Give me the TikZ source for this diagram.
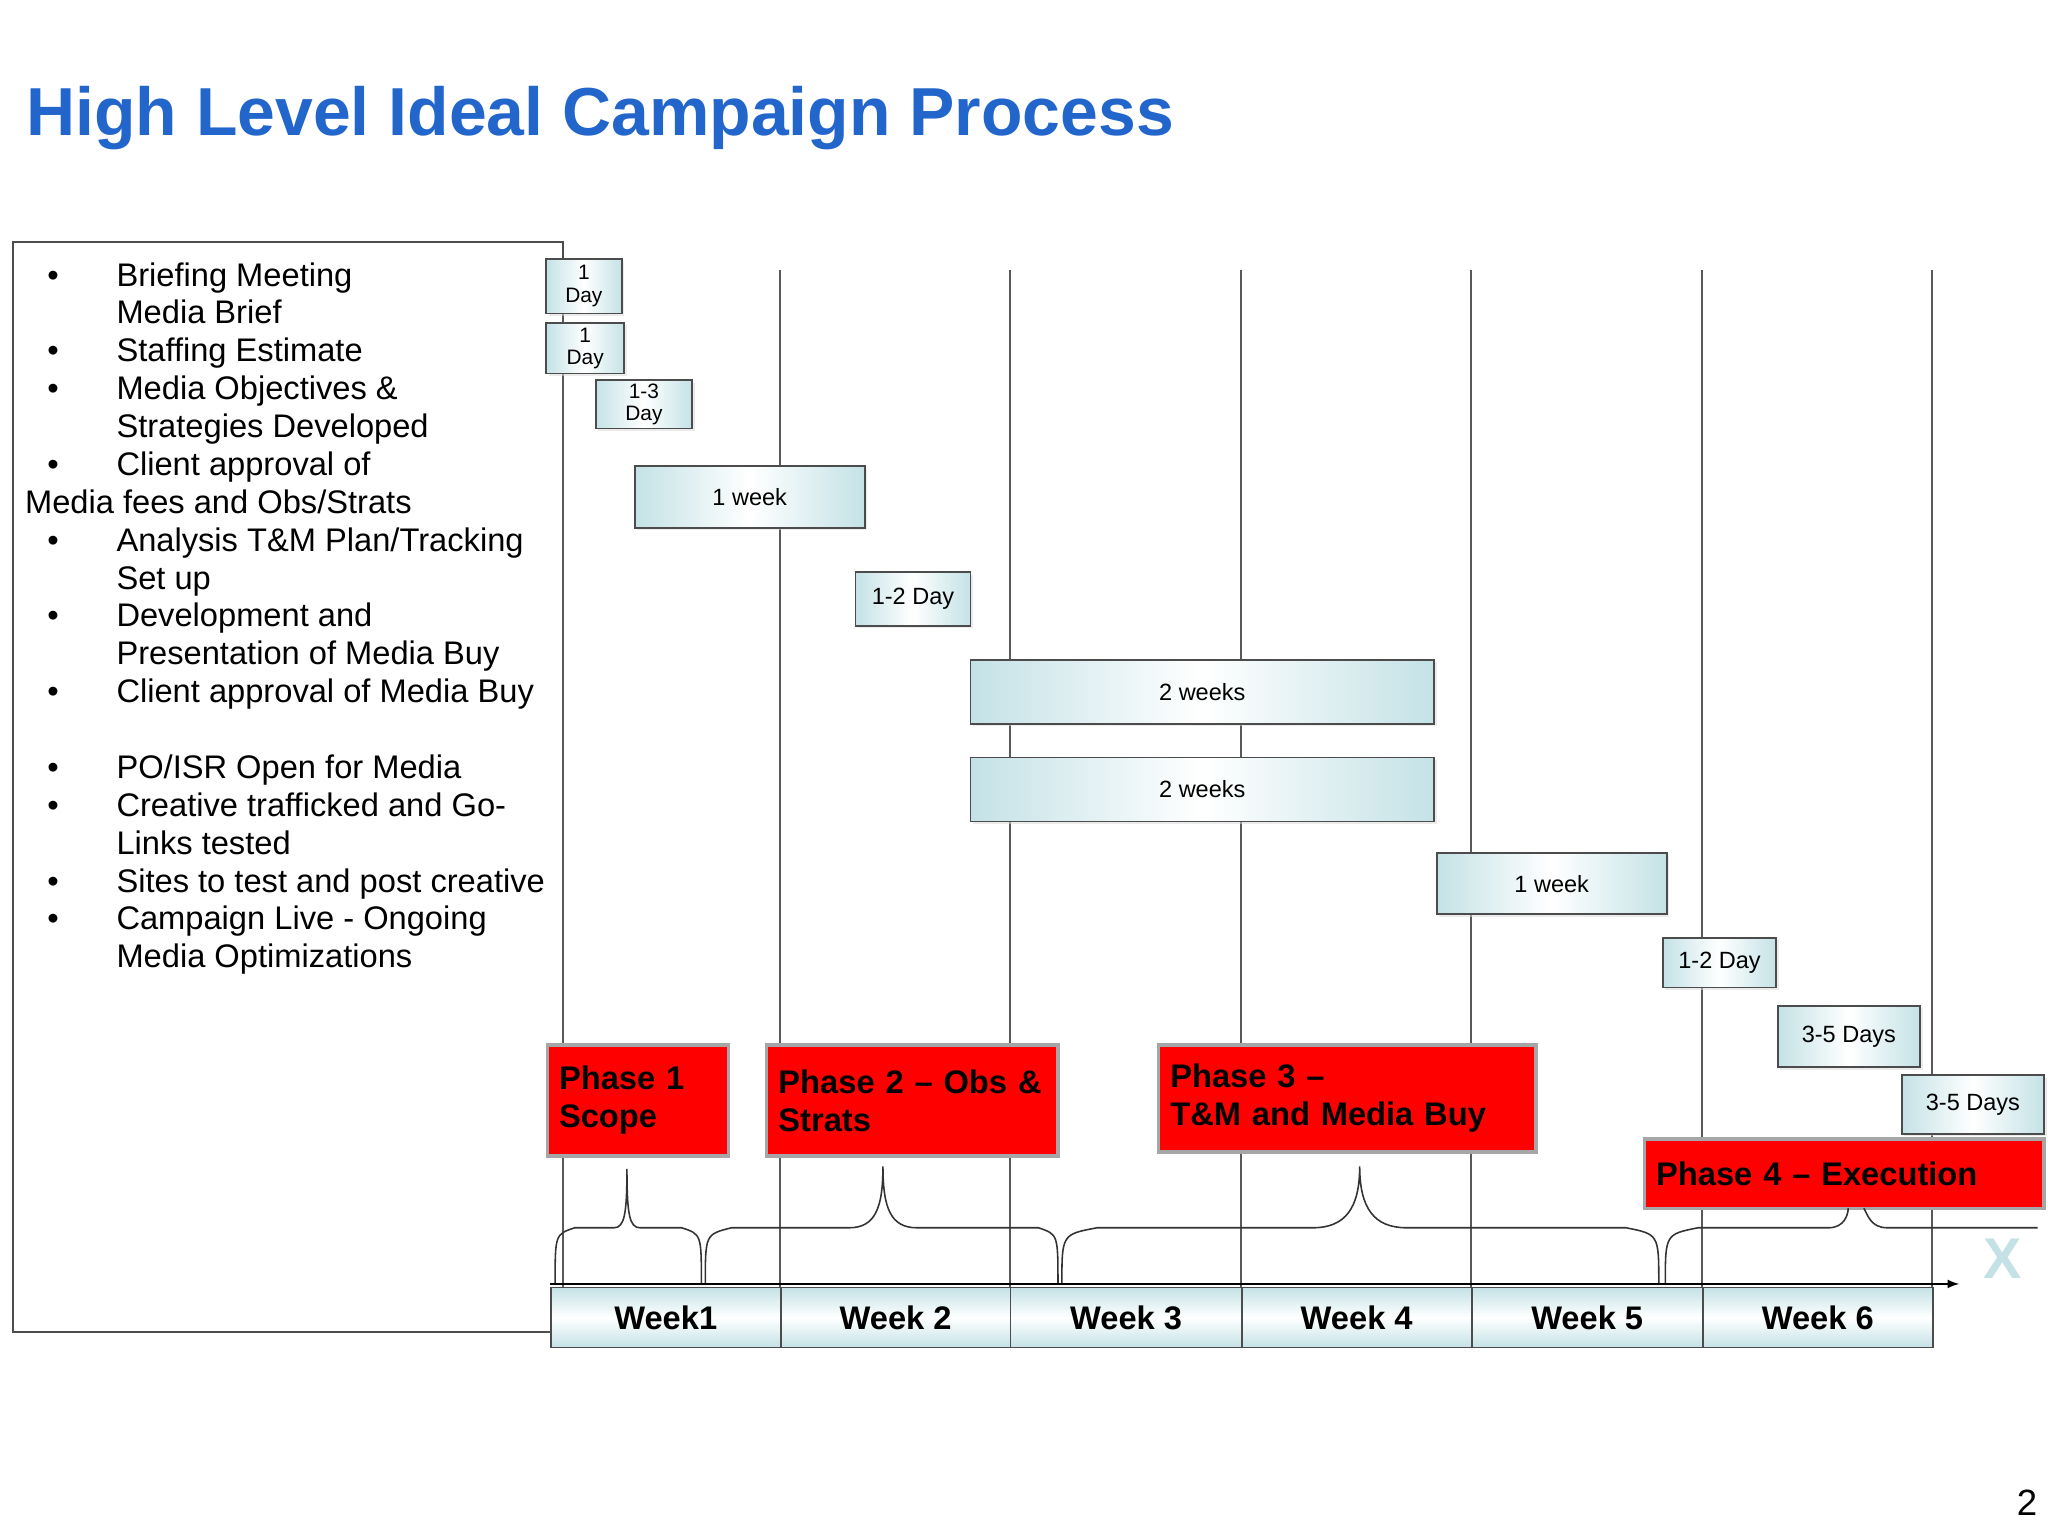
\documentclass[tikz,border=0pt]{standalone}
\usepackage{fontspec}
\setmainfont{Liberation Sans}
\usetikzlibrary{shadows}
\definecolor{barc}{RGB}{196,226,230}
\definecolor{titc}{RGB}{34,102,204}
\begin{document}
\begin{tikzpicture}[x=1pt,y=-1pt,
  bar/.style={draw=gray!60!black,line width=1.4pt,left color=barc,right color=barc,middle color=white,font=\fontsize{18}{18}\selectfont,align=center,inner sep=0pt,drop shadow={shadow xshift=2pt,shadow yshift=-2pt,fill=gray!30}},
  phase/.style={draw=gray!70,line width=2.5pt,fill=red,font=\bfseries\fontsize{25}{29}\selectfont,align=left,inner sep=0pt},
  wk/.style={draw=gray!60!black,line width=1.4pt,top color=barc,bottom color=barc,middle color=white,font=\bfseries\fontsize{25}{25}\selectfont,inner sep=0pt},
  vl/.style={gray!70!black,line width=1.5pt},
  br/.style={black!80,line width=1.2pt},
  txt/.style={anchor=base west,font=\fontsize{25}{25}\selectfont,inner sep=0pt}]
\useasboundingbox (0,0) rectangle (1568,1176);
\fill[white] (0,0) rectangle (1568,1176);
\node[anchor=base west,text=titc,font=\bfseries\fontsize{52}{52}\selectfont,inner sep=0pt] (title) at (20,104) {High Level Ideal Campaign Process};
\draw[gray!60!black,line width=1.5pt] (431,1020) -- (10,1020) -- (10,185) -- (431,185) coordinate (pc) -- (431,207);
% vertical lines
\foreach \x/\n in {431/a,597/b,773/c,950/d,1126/e,1303/f,1479/g}{
  \coordinate (t\n) at (\x,207); \coordinate (b\n) at (\x,985);
  \draw[vl] (t\n) -- (b\n);}
% left text
\foreach \y/\t/\b in {219/{Briefing Meeting}/1,248/{Media Brief}/0,277/{Staffing Estimate}/1,306/{Media Objectives \&}/1,335/{Strategies Developed}/0,364/{Client approval of}/1,422/{Analysis T\&M Plan/Tracking}/1,451/{Set up}/0,480/{Development and}/1,509/{Presentation of Media Buy}/0,538/{Client approval of Media Buy}/1,596/{PO/ISR Open for Media}/1,625/{Creative trafficked and Go-}/1,654/{Links tested}/0,683/{Sites to test and post creative}/1,712/{Campaign Live - Ongoing}/1,741/{Media Optimizations}/0}{
  \node[txt] (l\y) at (89,\y) {\t};
  \ifnum\b=1 \node[txt] (bu\y) at (36,\y) {•};\fi}
\node[txt] (l393) at (19,393) {Media fees and Obs/Strats};
% bars
\node[bar,minimum width=58,minimum height=42,font=\fontsize{16}{17}\selectfont] (d1) at (447,219) {1\\Day};
\node[bar,minimum width=60,minimum height=39,font=\fontsize{16}{17}\selectfont] (d2) at (448,266.5) {1\\Day};
\node[bar,minimum width=74,minimum height=37,font=\fontsize{16}{17}\selectfont] (d3) at (493,309.5) {1-3\\Day};
\node[bar,minimum width=176,minimum height=47] (w1) at (574,380.5) {1 week};
\node[bar,minimum width=88,minimum height=41] (d4) at (699,458.5) {1-2 Day};
\node[bar,minimum width=355,minimum height=49] (w2) at (920.5,529.5) {2 weeks};
\node[bar,minimum width=355,minimum height=49] (w3) at (920.5,604.5) {2 weeks};
\node[bar,minimum width=176,minimum height=47] (w4) at (1188,676.5) {1 week};
\node[bar,minimum width=87,minimum height=38] (d5) at (1316.5,737) {1-2 Day};
\node[bar,minimum width=109,minimum height=47] (d6) at (1415.5,793.5) {3-5 Days};
\node[bar,minimum width=109,minimum height=45] (d7) at (1510.5,845.5) {3-5 Days};
% phases
\node[phase,minimum width=139,minimum height=85,text width=121] (p1) at (488.5,842.5) {Phase 1\\Scope};
\node[phase,minimum width=223,minimum height=85,text width=205] (p2) at (698.5,842.5) {Phase 2 – Obs \&\\Strats};
\node[phase,minimum width=289,minimum height=82,text width=271] (p3) at (1031.5,841) {Phase 3 –\\T\&M and Media Buy};
\node[phase,minimum width=306,minimum height=53,text width=288] (p4) at (1412,898.5) {Phase 4 – Execution};
% braces
\draw[br] (425,983) .. controls (425,945) .. (440,940) -- (470,940) .. controls (478,940) and (480,930) .. (480,895) .. controls (480,930) and (482,940) .. (490,940) -- (522,940) .. controls (537,945) .. (537,983);
\draw[br] (540,983) .. controls (540,945) .. (560,940) -- (650,940) .. controls (670,940) and (676,925) .. (676,893) .. controls (676,925) and (682,940) .. (702,940) -- (795,940) .. controls (810,945) .. (810,983);
\draw[br] (813,983) .. controls (813,945) .. (840,940) -- (1005,940) .. controls (1030,940) and (1041,925) .. (1041,893) .. controls (1041,925) and (1052,940) .. (1077,940) -- (1245,940) .. controls (1270,945) .. (1270,983);
\draw[br] (1275,983) .. controls (1275,945) .. (1300,940) -- (1400,940) .. controls (1412,940) and (1415,930) .. (1415,925);
\draw[br] (1427,925) .. controls (1430,930) and (1432,940) .. (1445,940) -- (1560,940);
% axis
\coordinate (ax0) at (421,983); \coordinate (ax1) at (1500,983);
\draw[line width=2pt,-latex] (ax0) -- (ax1);
\node[text=barc,font=\bfseries\fontsize{44}{44}\selectfont,inner sep=0pt] (X) at (1533,964) {X};
% weeks
\foreach \x/\w/\t in {421/176/Week1,597/176/Week 2,773/177/Week 3,950/176/Week 4,1126/177/Week 5,1303/176/Week 6}{
  \node[wk,minimum width=\w,minimum height=46,anchor=north west] (W\x) at (\x,985) {\t};}
\node[anchor=base,font=\fontsize{28}{28}\selectfont,inner sep=0pt] (pg) at (1552,1160) {2};
\end{tikzpicture}
\end{document}
